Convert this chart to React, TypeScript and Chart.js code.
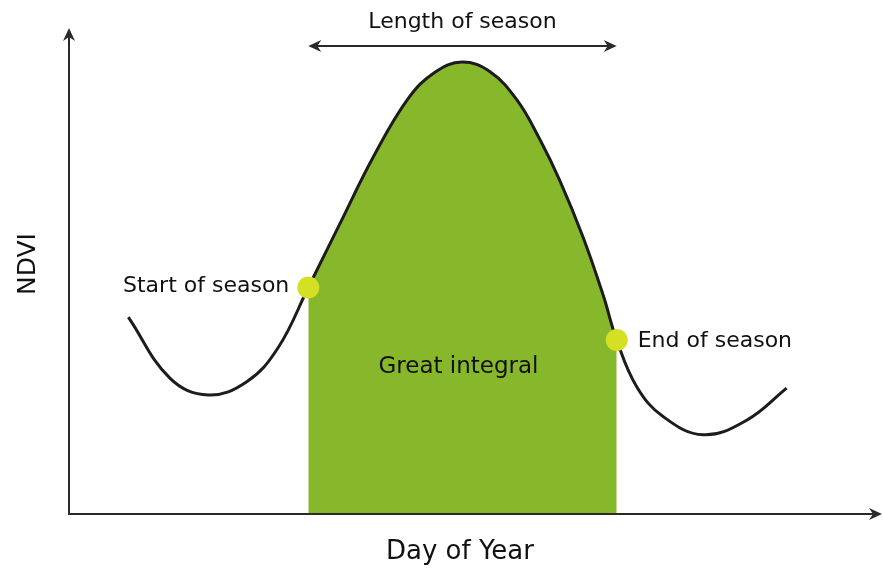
import { useEffect, useRef } from 'react';
import { Chart, registerables } from 'chart.js';

Chart.register(...registerables);

// Day of year (0-365) and NDVI (0-1)
const days = [26.7, 45.5, 62.7, 80.0, 94.1, 107.7, 122.0, 137.0, 152.7, 164.7, 176.9, 189.5, 201.6, 212.0, 221.0, 231.5, 240.5, 246.5, 255.5, 267.5, 285.5, 305.0, 323.0];
const ndvi = [0.405, 0.279, 0.245, 0.272, 0.342, 0.466, 0.598, 0.735, 0.855, 0.909, 0.93, 0.91, 0.852, 0.77, 0.685, 0.568, 0.449, 0.358, 0.262, 0.2, 0.163, 0.193, 0.259];
const seasonStartIndex = 5;
const seasonEndIndex = 17;
const pointLabels = ['Start of season', 'End of season'];
const xAxisTitle = 'Day of Year';
const yAxisTitle = 'NDVI';
const lengthLabel = 'Length of season';
const integralLabel = 'Great integral';

const FONT = '"DejaVu Sans", sans-serif';

function arrowHead(ctx: CanvasRenderingContext2D, tipX: number, tipY: number, dir: 'up' | 'right' | 'left', len = 13, half = 6) {
  ctx.beginPath();
  if (dir === 'up') {
    ctx.moveTo(tipX, tipY);
    ctx.lineTo(tipX - half, tipY + len);
    ctx.lineTo(tipX, tipY + len - 4);
    ctx.lineTo(tipX + half, tipY + len);
  } else if (dir === 'right') {
    ctx.moveTo(tipX, tipY);
    ctx.lineTo(tipX - len, tipY - half);
    ctx.lineTo(tipX - len + 4, tipY);
    ctx.lineTo(tipX - len, tipY + half);
  } else {
    ctx.moveTo(tipX, tipY);
    ctx.lineTo(tipX + len, tipY - half);
    ctx.lineTo(tipX + len - 4, tipY);
    ctx.lineTo(tipX + len, tipY + half);
  }
  ctx.closePath();
  ctx.fill();
}

const decorPlugin = {
  id: 'decor',
  afterDatasetsDraw(chart: any) {
    const { ctx, chartArea, scales } = chart;
    const x = scales.x;
    const y = scales.y;
    const x0 = x.getPixelForValue(0);
    const y0 = y.getPixelForValue(0);
    ctx.save();
    ctx.strokeStyle = '#2a2a2a';
    ctx.fillStyle = '#2a2a2a';
    ctx.lineWidth = 2;
    // axes
    ctx.beginPath();
    ctx.moveTo(x0, y0);
    ctx.lineTo(x0, chartArea.top + 6);
    ctx.moveTo(x0 - 1, y0);
    ctx.lineTo(chartArea.right - 6, y0);
    ctx.stroke();
    arrowHead(ctx, x0, chartArea.top, 'up');
    arrowHead(ctx, chartArea.right + 2, y0, 'right');

    // length of season arrow
    const sx = x.getPixelForValue(days[seasonStartIndex]);
    const ex = x.getPixelForValue(days[seasonEndIndex]);
    const ay = 46;
    ctx.beginPath();
    ctx.moveTo(sx + 6, ay);
    ctx.lineTo(ex - 6, ay);
    ctx.stroke();
    arrowHead(ctx, sx, ay, 'left');
    arrowHead(ctx, ex, ay, 'right');

    ctx.fillStyle = '#111';
    ctx.textBaseline = 'middle';
    ctx.font = `22px ${FONT}`;
    ctx.textAlign = 'center';
    ctx.fillText(lengthLabel, (sx + ex) / 2, 22);

    const spx = x.getPixelForValue(days[seasonStartIndex]);
    const spy = y.getPixelForValue(ndvi[seasonStartIndex]);
    const epx = x.getPixelForValue(days[seasonEndIndex]);
    const epy = y.getPixelForValue(ndvi[seasonEndIndex]);
    ctx.textAlign = 'right';
    ctx.fillText(pointLabels[0], spx - 19, spy - 1);
    ctx.textAlign = 'left';
    ctx.fillText(pointLabels[1], epx + 21, epy + 1);

    ctx.textAlign = 'center';
    ctx.font = `23px ${FONT}`;
    ctx.fillText(integralLabel, (sx + ex) / 2 - 4, 367);

    ctx.font = `26px ${FONT}`;
    ctx.fillText(xAxisTitle, 460, 552);

    ctx.save();
    ctx.translate(28, 264);
    ctx.rotate(-Math.PI / 2);
    ctx.font = `25px ${FONT}`;
    ctx.fillText(yAxisTitle, 0, 0);
    ctx.restore();
    ctx.restore();
  },
};

export default function App() {
  const ref = useRef<HTMLCanvasElement | null>(null);
  useEffect(() => {
    if (!ref.current) return;
    const curve = days.map((d, i) => ({ x: d, y: ndvi[i] }));
    const season = curve.slice(seasonStartIndex, seasonEndIndex + 1);
    const markers = [curve[seasonStartIndex], curve[seasonEndIndex]];
    const chart = new Chart(ref.current, {
      type: 'line',
      data: {
        datasets: [
          {
            data: markers,
            showLine: false,
            pointRadius: 11,
            pointBackgroundColor: '#d5e024',
            pointBorderWidth: 0,
            order: 0,
          },
          {
            data: curve,
            borderColor: '#1c1c1c',
            borderWidth: 3,
            pointRadius: 0,
            fill: false,
            tension: 0.4,
            order: 1,
          },
          {
            data: season,
            borderWidth: 0,
            borderColor: 'rgba(0,0,0,0)',
            backgroundColor: '#87b72b',
            pointRadius: 0,
            fill: 'origin',
            tension: 0.4,
            order: 2,
          },
        ],
      },
      options: {
        responsive: false,
        animation: false,
        layout: { autoPadding: false, padding: { left: 69, right: 3, top: 28, bottom: 58 } },
        scales: {
          x: { type: 'linear', min: 0, max: 365, display: false },
          y: { min: 0, max: 1, display: false },
        },
        plugins: { legend: { display: false }, tooltip: { enabled: false } },
      },
      plugins: [decorPlugin],
    } as any);
    return () => chart.destroy();
  }, []);
  return (
    <div style={{ position: 'absolute', left: 0, top: 0, width: 883, height: 572, background: '#fff' }}>
      <canvas ref={ref} width={883} height={572} />
    </div>
  );
}
